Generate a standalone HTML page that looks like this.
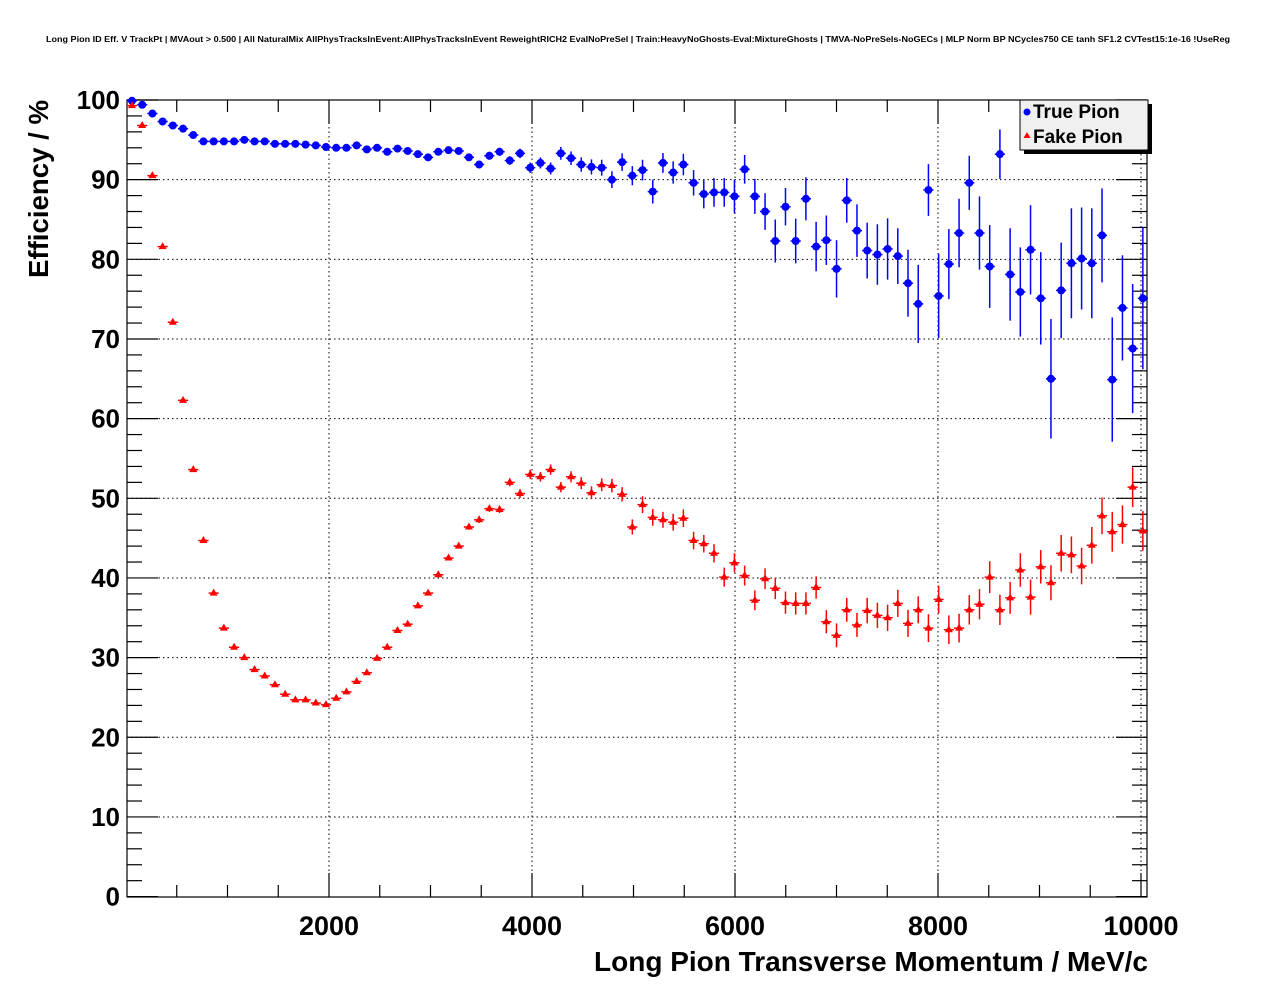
<!DOCTYPE html>
<html><head><meta charset="utf-8"><style>
html,body{margin:0;padding:0;background:#fff;}
svg{display:block;font-family:"Liberation Sans",Arial,sans-serif;}
</style></head><body>
<svg id="chart" width="1276" height="996" viewBox="0 0 1276 996" xmlns="http://www.w3.org/2000/svg">
<rect width="1276" height="996" fill="#fff"/>
<text x="46" y="42" font-size="8" font-weight="bold" textLength="1184" lengthAdjust="spacingAndGlyphs">Long Pion ID Eff. V TrackPt | MVAout &gt; 0.500 | All NaturalMix AllPhysTracksInEvent:AllPhysTracksInEvent ReweightRICH2 EvalNoPreSel | Train:HeavyNoGhosts-Eval:MixtureGhosts | TMVA-NoPreSels-NoGECs | MLP Norm BP NCycles750 CE tanh SF1.2 CVTest15:1e-16 !UseReg</text>
<g id="grid"></g>
<g id="axes"></g>
<g id="series-true"></g>
<g id="series-fake"></g>
<text x="1148" y="971" font-size="28" font-weight="bold" text-anchor="end" textLength="554" lengthAdjust="spacingAndGlyphs">Long Pion Transverse Momentum / MeV/c</text>
<text transform="translate(48,278) rotate(-90)" font-size="28" font-weight="bold" textLength="178" lengthAdjust="spacingAndGlyphs">Efficiency / %</text>
<g>
<rect x="1024" y="104" width="128" height="50" fill="#000"/>
<rect x="1020" y="100" width="128" height="50" fill="#f0f0f0" stroke="#000" stroke-width="1"/>
<g><circle cx="1027" cy="112" r="3.5" fill="#0000ff"/><text x="1033" y="118" font-size="19" font-weight="bold">True Pion</text></g>
<g><polygon points="1027,132 1030.5,138 1023.5,138" fill="#ff0000"/><text x="1033" y="143" font-size="19" font-weight="bold">Fake Pion</text></g>
</g>
</svg>
<script>
const binCenters = Array.from({length:100},(_,i)=>59+100.6*i);
const trueVals = [99.9,99.4,98.3,97.3,96.8,96.4,95.6,94.8,94.8,94.8,
94.8,95.0,94.8,94.8,94.5,94.5,94.5,94.4,94.3,94.1,
94.0,94.0,94.3,93.8,94.0,93.5,93.9,93.6,93.2,92.8,
93.5,93.7,93.6,92.8,91.9,93.0,93.5,92.4,93.3,91.5,
92.1,91.4,93.3,92.7,91.9,91.6,91.5,90.0,92.2,90.5,
91.2,88.5,92.1,90.9,91.9,89.6,88.2,88.4,88.4,87.9,
91.3,87.9,86.0,82.3,86.6,82.3,87.6,81.6,82.4,78.8,
87.4,83.6,81.1,80.6,81.3,80.4,77.0,74.4,88.7,75.4,
79.4,83.3,89.6,83.3,79.1,93.2,78.1,75.9,81.2,75.1,
65.0,76.1,79.5,80.1,79.5,83.0,64.9,73.9,68.8,75.1];
const trueErrs = [0.1,0.1,0.1,0.1,0.1,0.1,0.1,0.1,0.1,0.1,
0.1,0.1,0.1,0.1,0.15,0.15,0.15,0.15,0.15,0.2,
0.2,0.2,0.2,0.25,0.25,0.25,0.3,0.3,0.3,0.35,
0.35,0.4,0.4,0.4,0.45,0.5,0.5,0.55,0.6,0.65,
0.7,0.75,0.8,0.85,0.9,0.95,1.0,1.05,1.1,1.2,
1.3,1.5,1.25,1.4,1.35,1.6,1.8,1.8,1.8,2.1,
1.8,2.2,2.3,2.7,2.35,2.8,2.7,3.1,3.1,3.6,
2.8,3.3,3.5,3.8,3.85,3.5,4.2,4.9,3.25,5.3,
4.4,4.3,3.4,4.6,5.2,3.1,5.8,5.6,5.6,5.8,
7.5,6.0,6.9,6.4,6.9,5.9,7.8,6.6,8.1,8.9];
const fakeVals = [99.3,96.8,90.5,81.6,72.1,62.3,53.6,44.7,38.1,33.7,
31.3,30.0,28.5,27.7,26.6,25.4,24.7,24.7,24.3,24.1,
24.9,25.7,27.0,28.1,29.9,31.3,33.4,34.2,36.5,38.1,
40.4,42.5,44.0,46.4,47.3,48.7,48.6,52.0,50.6,53.0,
52.7,53.6,51.4,52.7,51.9,50.7,51.7,51.6,50.5,46.4,
49.2,47.6,47.3,47.0,47.5,44.7,44.3,43.1,40.1,41.9,
40.3,37.2,39.9,38.7,36.9,36.8,36.8,38.8,34.5,32.8,
36.0,34.1,35.9,35.3,35.0,36.8,34.3,36.0,33.7,37.3,
33.5,33.7,36.0,36.7,40.1,36.0,37.5,41.0,37.6,41.4,
39.4,43.1,42.9,41.5,44.1,47.8,45.8,46.7,51.4,45.9];
const fakeErrs = [0.1,0.1,0.1,0.1,0.1,0.1,0.1,0.1,0.1,0.1,
0.1,0.1,0.1,0.15,0.15,0.15,0.15,0.15,0.15,0.15,
0.15,0.2,0.2,0.2,0.2,0.2,0.2,0.25,0.25,0.25,
0.3,0.3,0.3,0.35,0.4,0.4,0.45,0.5,0.55,0.6,
0.6,0.65,0.65,0.7,0.75,0.8,0.8,0.85,0.9,0.95,
1.05,1.05,1.0,1.05,1.1,1.1,1.1,1.15,1.2,1.2,
1.25,1.25,1.3,1.35,1.4,1.4,1.4,1.4,1.45,1.5,
1.5,1.5,1.6,1.6,1.65,1.7,1.7,1.7,1.75,1.75,
1.8,1.8,1.85,1.9,2.0,1.9,2.0,2.1,2.2,2.1,
2.2,2.3,2.3,2.3,2.3,2.3,2.5,2.4,2.5,2.5];
const xTickLabels = [2000,4000,6000,8000,10000];
const yTickLabels = [0,10,20,30,40,50,60,70,80,90,100];

const NS="http://www.w3.org/2000/svg";
const L=127,R=1147,T=100,B=897;
function xs(v){return 126+v*0.1015;}
function ys(v){return 896.6-v*7.966;}
function mk(tag,attrs,parent){const e=document.createElementNS(NS,tag);for(const k in attrs)e.setAttribute(k,attrs[k]);parent.appendChild(e);return e;}
const grid=document.getElementById('grid'),axes=document.getElementById('axes');
xTickLabels.forEach(v=>{if(xs(v)<R-2){const g=mk('line',{x1:xs(v),x2:xs(v),y1:T,y2:B,stroke:'#000','stroke-width':1,'stroke-dasharray':'1.5,3'},grid);

}});
yTickLabels.forEach(v=>{if(v>0&&v<100){const g=mk('line',{x1:L,x2:R,y1:ys(v),y2:ys(v),stroke:'#000','stroke-width':1,'stroke-dasharray':'1.5,3'},grid);

}});
const fr=mk('rect',{x:L,y:T,width:R-L,height:B-T,fill:'none',stroke:'#000','stroke-width':1.2},axes);


for(let v=500;v<=10000;v+=500){const x=xs(v);const len=(v%2000===0)?24:12;
mk('line',{x1:x,x2:x,y1:B,y2:B-len,stroke:'#000','stroke-width':1.2},axes);
mk('line',{x1:x,x2:x,y1:T,y2:T+len,stroke:'#000','stroke-width':1.2},axes);}
for(let v=0;v<=100;v+=2){const y=ys(v);const len=(v%10===0)?31:15;
mk('line',{x1:L,x2:L+len,y1:y,y2:y,stroke:'#000','stroke-width':1.2},axes);
mk('line',{x1:R,x2:R-len,y1:y,y2:y,stroke:'#000','stroke-width':1.2},axes);}
xTickLabels.forEach(v=>{const t=mk('text',{x:xs(v),y:935,'font-size':27,'font-weight':'bold','text-anchor':'middle'},axes);t.textContent=v;

});
yTickLabels.forEach(v=>{const t=mk('text',{x:120,y:ys(v)+9,'font-size':26,'font-weight':'bold','text-anchor':'end'},axes);t.textContent=v;

});
function draw(vals,errs,color,gid,shape){const g=document.getElementById(gid);
vals.forEach((v,i)=>{const x=xs(binCenters[i]),y=ys(v);
const grp=mk('g',{},g);


mk('line',{x1:xs(binCenters[i]-50),x2:xs(binCenters[i]+50),y1:y,y2:y,stroke:color,'stroke-width':1.5},grp);
const e=errs[i];const yt=Math.max(ys(v+e),T);const yb=ys(v-e);
mk('line',{x1:x,x2:x,y1:yt,y2:yb,stroke:color,'stroke-width':1.5},grp);
if(shape==='circle')mk('circle',{cx:x,cy:y,r:4,fill:color},grp);
else mk('polygon',{points:`${x},${y-4.5} ${x+4},${y+2.5} ${x-4},${y+2.5}`,fill:color},grp);});}
draw(trueVals,trueErrs,'#0000ff','series-true','circle');
draw(fakeVals,fakeErrs,'#ff0000','series-fake','tri');
</script>
</body></html>
